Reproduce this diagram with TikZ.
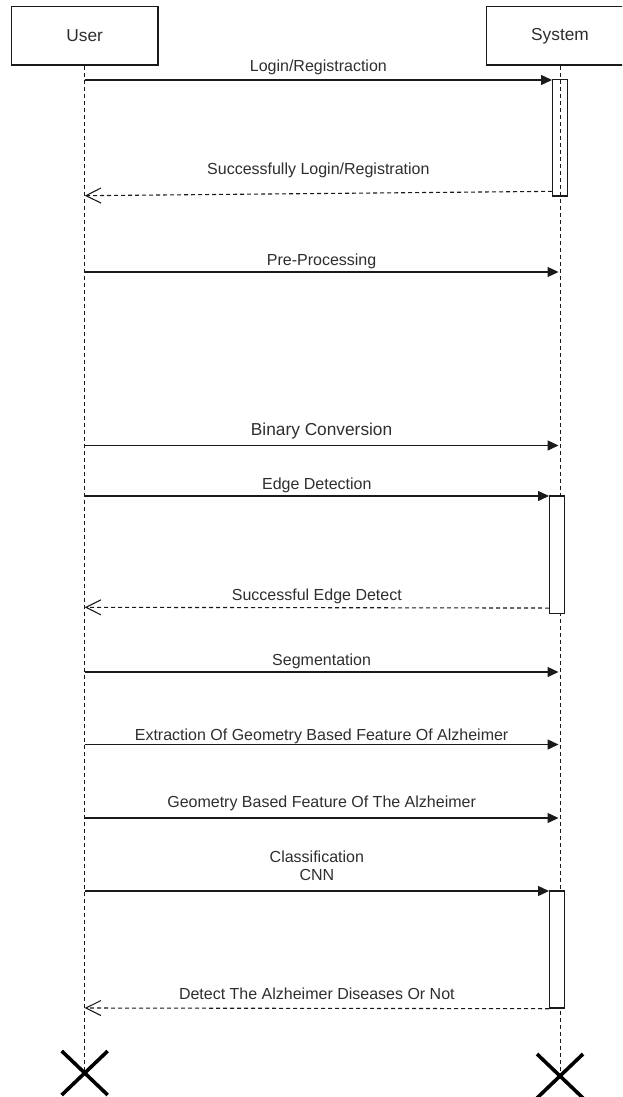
\documentclass[tikz,border=0pt]{standalone}
\usepackage{fontspec}
\setmainfont{Liberation Sans}
\usetikzlibrary{arrows.meta}
\definecolor{ink}{HTML}{1A1A1A}
\definecolor{txt}{HTML}{2E2E2E}

\begin{document}
\begin{tikzpicture}[x=1pt,y=-1pt,
  actor/.style={draw=ink, line width=1.4pt, fill=white, minimum width=146.7pt,
    minimum height=58.3pt, inner sep=0pt, font=\fontsize{17.3}{20}\selectfont, text=txt},
  lifeline/.style={draw=ink, line width=1pt, dash pattern=on 4pt off 3pt},
  msg/.style={draw=ink, line width=1.4pt, -{Triangle[length=11pt,width=10pt]}},
  reply/.style={draw=ink, line width=1.1pt, dash pattern=on 4pt off 3pt,
    -{Straight Barb[length=15pt,width=15pt,line width=1.1pt]}},
  actbar/.style={draw=ink, line width=1.4pt, minimum width=14.6pt, inner sep=0pt},
  lbl/.style={font=\fontsize{16}{18}\selectfont, text=txt, inner sep=0pt, align=center},
  endmark/.style={draw=black, line width=3.6pt}
]
\useasboundingbox (0,0) rectangle (622,1097);
\clip (0,0) rectangle (622,1097);

% participants
\node[actor] (user) at (84.7,35.85) {User};
\node[actor] (sys) at (560,35.85) {System};

% ends of the lifelines
\coordinate (xu) at (84.7,1073);
\coordinate (xs) at (560,1076);

\draw[lifeline] (user.south) -- (xu);
\draw[lifeline] (sys.south) -- (xs);

% activation bars
\node[actbar, minimum height=116.7pt] (b1) at (560,137.6) {};
\node[actbar, fill=white, minimum height=117.3pt] (b2) at (557,554.7) {};
\node[actbar, fill=white, minimum height=117pt] (b3) at (557,949.5) {};

% points on the user lifeline
\coordinate (m1) at (84.7,80);
\coordinate (r1) at (84.7,195.7);
\coordinate (m2) at (84.7,272);
\coordinate (m3) at (84.7,445.5);
\coordinate (m4) at (84.7,496);
\coordinate (r2) at (84.7,607.3);
\coordinate (m5) at (84.7,672);
\coordinate (m6) at (84.7,744.5);
\coordinate (m7) at (84.7,818);
\coordinate (m8) at (84.7,891);
\coordinate (r3) at (84.7,1008);

% points on the system lifeline
\coordinate (s2) at (558.5,272);
\coordinate (s3) at (558.5,445.5);
\coordinate (s5) at (558.5,672);
\coordinate (s6) at (558.5,744.5);
\coordinate (s7) at (558.5,818);

% messages
\draw[msg] (m1) -- node[lbl, anchor=base, midway, yshift=8.5pt] {Login/Registraction} (m1 -| b1.west);
\draw[reply] ([yshift=5.3pt]b1.south west) -- node[lbl, anchor=base, midway, yshift=19pt] {Successfully Login/Registration} (r1);
\draw[msg] (m2) -- node[lbl, anchor=base, midway, yshift=7pt] {Pre-Processing} (s2);
\draw[msg] (m3) -- node[lbl, anchor=base, midway, yshift=10.5pt, font=\fontsize{17.3}{20}\selectfont] {Binary Conversion} (s3);
\draw[msg] (m4) -- node[lbl, anchor=base, midway, yshift=7pt] {Edge Detection} (m4 -| b2.west);
\draw[reply] ([yshift=6pt]b2.south west) -- node[lbl, anchor=base, midway, yshift=7pt] {Successful Edge Detect} (r2);
\draw[msg] (m5) -- node[lbl, anchor=base, midway, yshift=7pt] {Segmentation} (s5);
\draw[msg] (m6) -- node[lbl, anchor=base, midway, yshift=4.5pt] {Extraction Of Geometry Based Feature Of Alzheimer} (s6);
\draw[msg] (m7) -- node[lbl, anchor=base, midway, yshift=11pt] {Geometry Based Feature Of The Alzheimer} (s7);
\draw[msg] (m8) -- node[lbl, anchor=south, midway, yshift=10pt] {Classification\\CNN} (m8 -| b3.west);
\draw[reply] (b3.south west) -- node[lbl, anchor=base, midway, yshift=9pt] {Detect The Alzheimer Diseases Or Not} (r3);

% destruction marks
\draw[endmark] (xu) ++(-23,-22) -- ++(46,44);
\draw[endmark] (xu) ++(23,-22) -- ++(-46,44);
\draw[endmark] (xs) ++(-23,-22) -- ++(46,44);
\draw[endmark] (xs) ++(23,-22) -- ++(-46,44);
\end{tikzpicture}
\end{document}
